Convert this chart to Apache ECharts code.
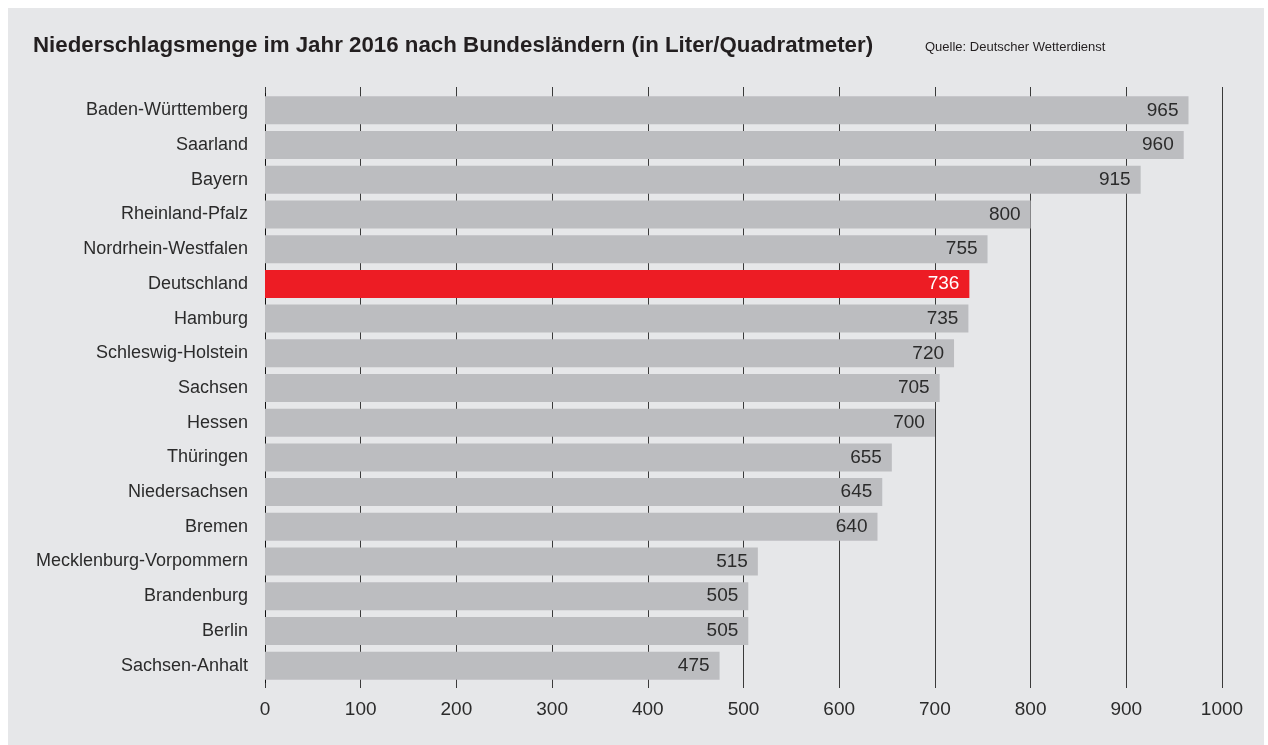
<!DOCTYPE html>
<html>
<head>
<meta charset="utf-8">
<script src="https://cdn.jsdelivr.net/npm/echarts@6/dist/echarts.min.js"></script>
<style>
  html, body { margin: 0; padding: 0; background: #fff; }
  #panel { position: absolute; left: 8px; top: 8px; width: 1256px; height: 737px; background: #e6e7e9; }
  #chart { position: absolute; left: 0; top: 0; width: 1268px; height: 745px; }
</style>
</head>
<body>
<div id="panel"></div>
<div id="chart"></div>
<script>
const states = [
  "Baden-Württemberg", "Saarland", "Bayern", "Rheinland-Pfalz", "Nordrhein-Westfalen",
  "Deutschland", "Hamburg", "Schleswig-Holstein", "Sachsen", "Hessen", "Thüringen",
  "Niedersachsen", "Bremen", "Mecklenburg-Vorpommern", "Brandenburg", "Berlin", "Sachsen-Anhalt"
];
const rainfall = [965, 960, 915, 800, 755, 736, 735, 720, 705, 700, 655, 645, 640, 515, 505, 505, 475];
const highlight = "Deutschland";
const xTicks = [0, 100, 200, 300, 400, 500, 600, 700, 800, 900, 1000];

const FONT = "'Liberation Sans', Arial, sans-serif";
const GRAY = "#bcbdc0";
const RED = "#ed1c24";
const LINE = "#3a3a3a";
const TEXT = "#2b2b2b";

const chart = echarts.init(document.getElementById("chart"));

// Deutschland gets the red bar and a white label
const barData = rainfall.map((v, i) => {
  const hot = states[i] === highlight;
  return {
    value: v,
    itemStyle: { color: hot ? RED : GRAY },
    label: { color: hot ? "#fff" : TEXT }
  };
});

const option = {
  backgroundColor: "transparent",
  animation: false,
  textStyle: { fontFamily: FONT },
  title: [
    {
      text: "Niederschlagsmenge im Jahr 2016 nach Bundesländern (in Liter/Quadratmeter)",
      left: 33, top: 35, padding: 0,
      textStyle: { fontFamily: FONT, fontWeight: "bold", fontSize: 22.3, color: "#231f20" }
    },
    {
      text: "Quelle: Deutscher Wetterdienst",
      left: 925, top: 41, padding: 0,
      textStyle: { fontFamily: FONT, fontWeight: "normal", fontSize: 13, color: "#231f20" }
    }
  ],
  grid: { left: 265, right: 46, top: 93, bottom: 62, containLabel: false, outerBoundsMode: "none" },
  xAxis: [
    {
      type: "value", min: 0, max: 1000, interval: 100, position: "bottom",
      axisLine: { show: false },
      axisTick: { show: true, length: 5, lineStyle: { color: LINE } },
      splitLine: { show: true, lineStyle: { color: LINE, width: 1 } },
      axisLabel: {
        margin: 17, fontSize: 19, color: TEXT, fontFamily: FONT,
        formatter: v => xTicks.includes(v) ? String(v) : ""
      }
    },
    {
      // only used to let the grid lines poke out above the first bar
      type: "value", min: 0, max: 1000, interval: 100, position: "top",
      axisLine: { show: false },
      axisTick: { show: true, length: 6, lineStyle: { color: LINE } },
      splitLine: { show: false },
      axisLabel: { show: false }
    }
  ],
  yAxis: {
    type: "category", data: states, inverse: true,
    axisLine: { show: true, lineStyle: { color: "#111", width: 1 } },
    axisTick: { show: false },
    axisLabel: { margin: 17, fontSize: 18, color: TEXT, fontFamily: FONT }
  },
  series: [
    {
      type: "bar", xAxisIndex: 0, data: barData, barWidth: 28,
      label: {
        show: true, position: "insideRight", distance: 10,
        fontSize: 19, fontFamily: FONT
      }
    }
  ]
};

chart.setOption(option);
</script>
</body>
</html>
